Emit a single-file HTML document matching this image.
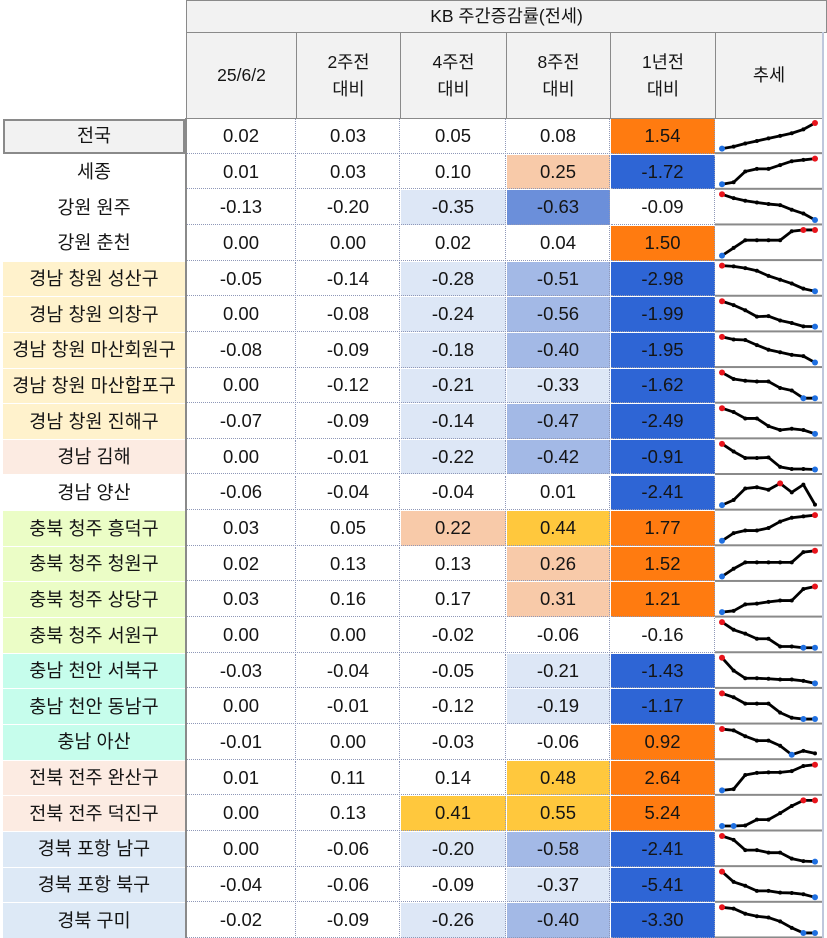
<!DOCTYPE html>
<html><head><meta charset="utf-8">
<style>
body{margin:0;width:827px;height:938px;overflow:hidden;background:#fff;font-family:"Liberation Sans","Noto Sans CJK KR",sans-serif;color:#151515}
#t{position:absolute;left:0;top:0;width:827px;height:938px}
.c{position:absolute;box-sizing:border-box;display:flex;align-items:center;justify-content:center;font-size:18.5px;text-align:center;line-height:1.5}
.h{background:#f2f2f2;border:1px solid #8a8a8a;font-size:17.5px}
</style></head><body>
<div id="t"></div>
<script>
const labels=["전국","세종","강원 원주","강원 춘천","경남 창원 성산구","경남 창원 의창구","경남 창원 마산회원구","경남 창원 마산합포구","경남 창원 진해구","경남 김해","경남 양산","충북 청주 흥덕구","충북 청주 청원구","충북 청주 상당구","충북 청주 서원구","충남 천안 서북구","충남 천안 동남구","충남 아산","전북 전주 완산구","전북 전주 덕진구","경북 포항 남구","경북 포항 북구","경북 구미"];
const labelBg=["#f2f2f2","#fff","#fff","#fff","#fff2cc","#fff2cc","#fff2cc","#fff2cc","#fff2cc","#fcebe2","#fff","#ebfdc6","#ebfdc6","#ebfdc6","#ebfdc6","#c6fdec","#c6fdec","#c6fdec","#fcebe2","#fcebe2","#dde9f6","#dde9f6","#dde9f6"];
const headers=["25/6/2","2주전<br>대비","4주전<br>대비","8주전<br>대비","1년전<br>대비","추세"];
const w0=[0.02,0.01,-0.13,0.00,-0.05,0.00,-0.08,0.00,-0.07,0.00,-0.06,0.03,0.02,0.03,0.00,-0.03,0.00,-0.01,0.01,0.00,0.00,-0.04,-0.02];
const w2=[0.03,0.03,-0.20,0.00,-0.14,-0.08,-0.09,-0.12,-0.09,-0.01,-0.04,0.05,0.13,0.16,0.00,-0.04,-0.01,0.00,0.11,0.13,-0.06,-0.06,-0.09];
const w4=[0.05,0.10,-0.35,0.02,-0.28,-0.24,-0.18,-0.21,-0.14,-0.22,-0.04,0.22,0.13,0.17,-0.02,-0.05,-0.12,-0.03,0.14,0.41,-0.20,-0.09,-0.26];
const w8=[0.08,0.25,-0.63,0.04,-0.51,-0.56,-0.40,-0.33,-0.47,-0.42,0.01,0.44,0.26,0.31,-0.06,-0.21,-0.19,-0.06,0.48,0.55,-0.58,-0.37,-0.40];
const y1=[1.54,-1.72,-0.09,1.50,-2.98,-1.99,-1.95,-1.62,-2.49,-0.91,-2.41,1.77,1.52,1.21,-0.16,-1.43,-1.17,0.92,2.64,5.24,-2.41,-5.41,-3.30];
const trends=[
[0,0.08,0.2,0.3,0.4,0.5,0.6,0.75,1],[0,0.08,0.5,0.6,0.6,0.75,0.9,0.95,1],[1,0.85,0.75,0.68,0.62,0.58,0.4,0.25,0],[0,0.3,0.6,0.6,0.6,0.6,0.95,1,1],
[1,0.97,0.9,0.8,0.6,0.45,0.3,0.1,0],[1,0.85,0.65,0.4,0.42,0.25,0.15,0.02,0.01],[1,0.9,0.88,0.68,0.5,0.4,0.3,0.25,0],[1,0.75,0.68,0.65,0.65,0.4,0.3,0,0],
[1,0.85,0.6,0.6,0.3,0.15,0.2,0.15,0],[1,0.7,0.45,0.45,0.47,0.1,0.02,0.02,0],[0,0.2,0.65,0.7,0.6,0.85,0.5,0.8,0.02],[0,0.3,0.4,0.4,0.5,0.75,0.9,0.95,1],
[0,0.3,0.55,0.55,0.55,0.55,0.55,0.95,1],[0,0.05,0.3,0.33,0.4,0.45,0.45,0.9,1],[1,0.7,0.55,0.35,0.35,0.05,0.05,0,0],[1,0.5,0.2,0.2,0.18,0.15,0.15,0.1,0],
[1,0.85,0.6,0.6,0.6,0.25,0.05,0,0],[1,0.95,0.72,0.55,0.55,0.35,0,0.15,0.05],[0,0.05,0.6,0.68,0.7,0.7,0.75,0.95,1],[0,0,0.02,0.25,0.25,0.5,0.78,1,1],
[1,0.85,0.45,0.45,0.35,0.35,0.12,0.02,0],[1,0.6,0.45,0.25,0.25,0.18,0.17,0.12,0],[1,0.95,0.75,0.65,0.6,0.45,0.2,0,0]];
const colX=[186,296,400,506,610,715,822];
const top0=118,rh=35.65;
const T=document.getElementById('t');
function div(cls,x,y,w,h,html,bg){const d=document.createElement('div');d.className='c '+cls;d.style.left=x+'px';d.style.top=y+'px';d.style.width=w+'px';d.style.height=h+'px';if(bg)d.style.background=bg;d.innerHTML=html;T.appendChild(d);return d;}
function color(v,col){if(col<2)return '#fff';if(v>=0.9)return '#ff7b10';if(v<=-0.9)return '#2e65d5';if(col===4)return '#fff';if(v>=0.4)return '#ffc83d';if(v>=0.2)return '#f8caa9';if(v<=-0.6)return '#6b8fda';if(v<=-0.4)return '#a3b9e6';if(v<=-0.14)return '#dde7f6';return '#fff';}
let d=div('h',186,0,641,33,'KB 주간증감률(전세)');


headers.forEach((h,i)=>{const e=div('h',colX[i],32,colX[i+1]-colX[i]+1,87,h);

});
const cols=[w0,w2,w4,w8,y1];
labels.forEach((lb,r)=>{
 const y=top0+r*rh;
 const l=div('',3,y+1,182,rh-1,lb,labelBg[r]);
 if(r===0){l.style.border='2px solid #8a8a8a';}
 
 
 cols.forEach((arr,ci)=>{
  const c=div('',colX[ci]+1,y+1,colX[ci+1]-colX[ci]-1,rh-1,arr[r].toFixed(2),color(arr[r],ci));
  c.style.borderBottom='1px dotted #8f98b8';c.style.borderRight='1px dotted #8f98b8';
  
  
 });
});
const v=document.createElement('div');v.style.cssText='position:absolute;left:185px;top:118px;width:2px;height:820px;background:#8a8a8a';


T.appendChild(v);
const NS='http://www.w3.org/2000/svg';
const svg=document.createElementNS(NS,'svg');svg.setAttribute('width',827);svg.setAttribute('height',938);svg.style.cssText='position:absolute;left:0;top:0';


T.appendChild(svg);
const sx=i=>722+i*(815-722)/8;
trends.forEach((tr,r)=>{
 const y=top0+r*rh;
 const sep=document.createElementNS(NS,'rect');sep.setAttribute('x',715);sep.setAttribute('y',y+rh-1.5);sep.setAttribute('width',107);sep.setAttribute('height',2);sep.setAttribute('fill','#8a8a8a');svg.appendChild(sep);
 const sy=v=>y+rh-5-v*(rh-10);
 const p=document.createElementNS(NS,'polyline');
 p.setAttribute('points',tr.map((v,i)=>sx(i)+','+sy(v)).join(' '));
 p.setAttribute('fill','none');p.setAttribute('stroke','#000');p.setAttribute('stroke-width','2.8');p.setAttribute('stroke-linejoin','round');
 
 
 svg.appendChild(p);
 const mx=Math.max(...tr),mn=Math.min(...tr);
 tr.forEach((v,i)=>{const c=document.createElementNS(NS,'circle');c.setAttribute('cx',sx(i));c.setAttribute('cy',sy(v));
  const col=v===mx?'#e8141c':v===mn?'#1f6fe0':'#000';c.setAttribute('r',col==='#000'?2:3);c.setAttribute('fill',col);
  
  
  svg.appendChild(c);});
});
const edge=document.createElement('div');edge.style.cssText='position:absolute;left:822px;top:32px;width:2px;height:906px;background:#bfc7dc';


T.appendChild(edge);
</script>
</body></html>
